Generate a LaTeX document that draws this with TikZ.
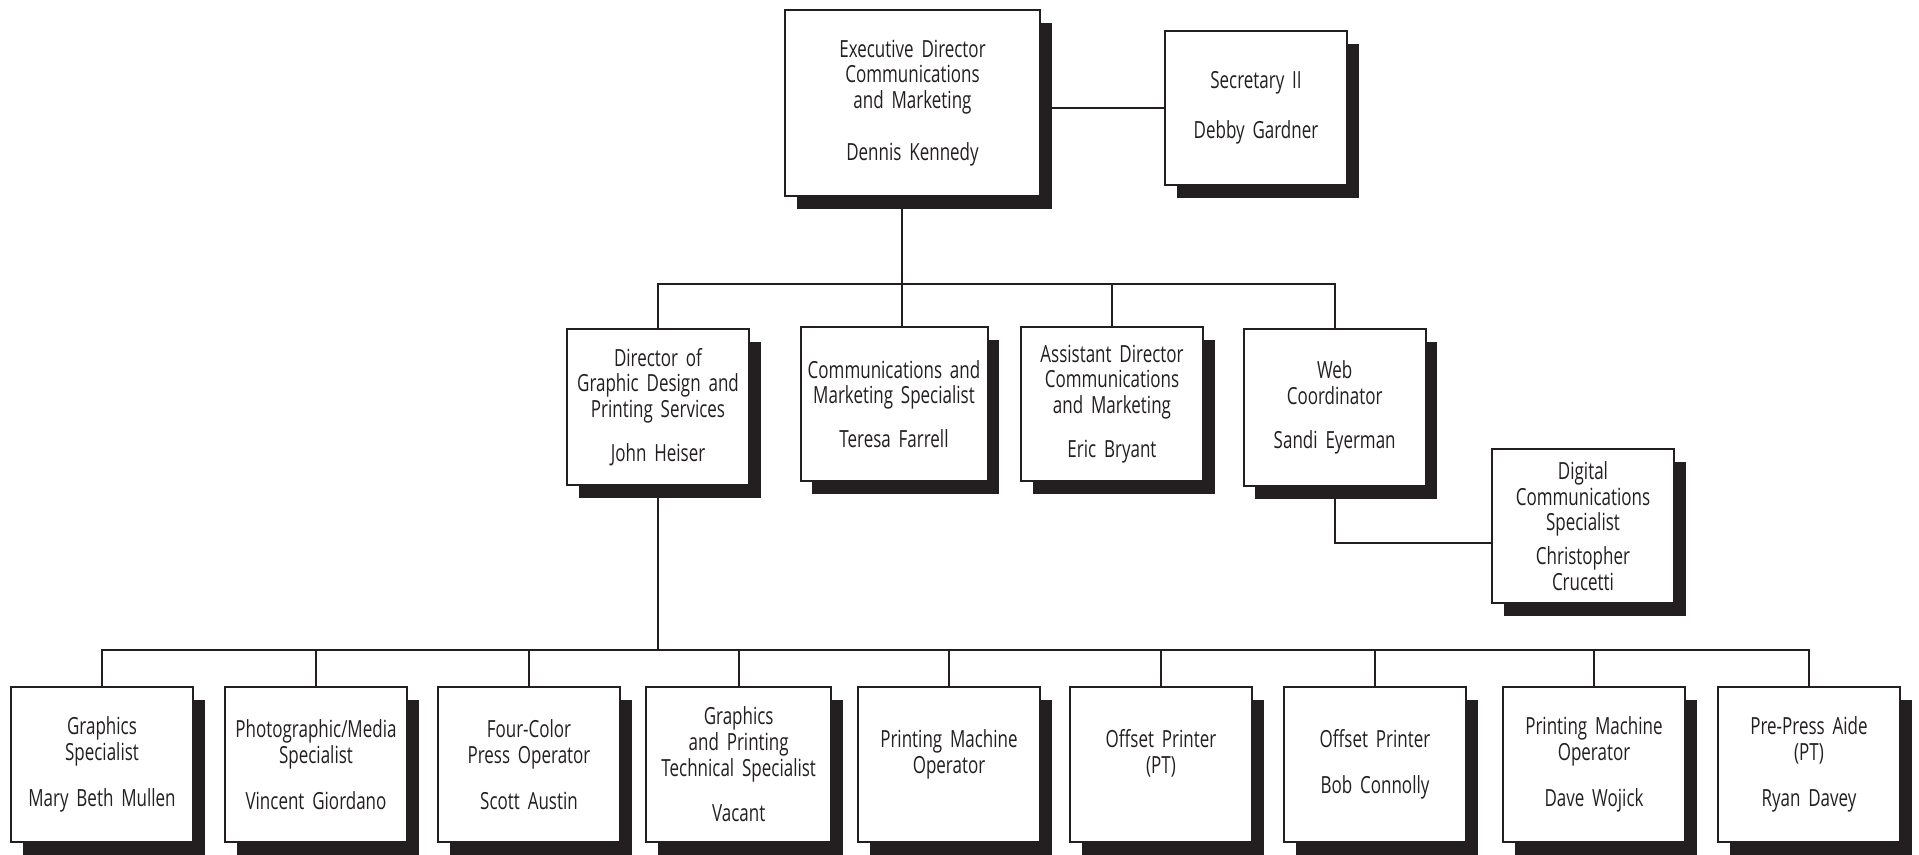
\documentclass[tikz,border=0pt]{standalone}
\usepackage{fontspec}
\setmainfont{Open Sans}[FakeStretch=0.72]
\usepackage{tikz}
\usetikzlibrary{shadows}
\definecolor{ink}{HTML}{231F20}

\begin{document}
\begin{tikzpicture}[
  x=0.5pt,y=-0.5pt,
  post/.style={draw=ink,line width=1pt,fill=white,text=ink,align=center,inner sep=0pt,
    text width=88pt,minimum width=91pt,minimum height=77.5pt,font=\fontsize{11.8}{12.85}\selectfont,
    drop shadow={shadow xshift=5.75pt,shadow yshift=-6.5pt,fill=ink,opacity=1}},
  tie/.style={draw=ink,line width=1pt}
]
\useasboundingbox (0,0) rectangle (1919,855);
% top
\node[post,text width=124pt,minimum width=127.5pt,minimum height=93pt] (exec) at (912.5,103)
  {Executive Director\\Communications\\and Marketing\\[13pt]Dennis Kennedy};
\node[post,minimum height=77pt] (sec) at (1256,108) {Secretary II\\[12pt]Debby Gardner};
% middle row
\node[post,minimum height=78pt] (dir) at (658,407)
  {Director of\\Graphic Design and\\Printing Services\\[9pt]John Heiser};
\node[post,text width=91pt,minimum width=93.5pt,minimum height=77pt] (comm) at (894,404)
  {Communications and\\Marketing Specialist\\[9pt]Teresa Farrell};
\node[post,minimum height=77pt] (asst) at (1112,404)
  {Assistant Director\\Communications\\and Marketing\\[9pt]Eric Bryant};
\node[post,minimum height=78.5pt] (web) at (1334.7,407.5) {Web\\Coordinator\\[9pt]Sandi Eyerman};
\node[post,minimum height=77pt] (digi) at (1583,526)
  {Digital\\Communications\\Specialist\\[4pt]Christopher\\Crucetti};
% bottom row
\node[post] (gspec) at (102,764.5) {Graphics\\Specialist\\[10pt]Mary Beth Mullen};
\node[post] (photo) at (316,764.5) {Photographic/Media\\Specialist\\[10pt]Vincent Giordano};
\node[post] (press) at (529,764.5) {Four-Color\\Press Operator\\[10pt]Scott Austin};
\node[post,text width=90pt,minimum width=92.5pt] (tech) at (738.7,764.5)
  {Graphics\\and Printing\\Technical Specialist\\[10pt]Vacant};
\node[post] (pmo) at (949,764.5) {Printing Machine\\Operator\\\mbox{}};
\node[post] (offpt) at (1161,764.5) {Offset Printer\\(PT)\\\mbox{}};
\node[post] (offset) at (1375,764.5) {Offset Printer\\[10pt]Bob Connolly};
\node[post] (pmo2) at (1594,764.5) {Printing Machine\\Operator\\[10pt]Dave Wojick};
\node[post] (aide) at (1809,764.5) {Pre-Press Aide\\(PT)\\[10pt]Ryan Davey};
% lines
\coordinate (bus1) at (902,284);
\coordinate (bus2) at (658,650);
\draw[tie] (sec.west -| exec.east) -- (sec.west);
\draw[tie] (exec.south -| bus1) -- (bus1);
\draw[tie] (dir.north) |- (bus1) -| (web.north);
\draw[tie] (bus1) -- (bus1 |- comm.north);
\draw[tie] (asst.north) -- (asst.north |- bus1);
\draw[tie] (web.south) |- ([yshift=-8.5pt]digi.west);
\draw[tie] (dir.south) -- (bus2);
\draw[tie] (gspec.north) |- (bus2) -| (aide.north);
\foreach \n in {photo,press,tech,pmo,offpt,offset,pmo2}
  \draw[tie] (\n.north) -- (\n.north |- bus2);
\end{tikzpicture}
\end{document}
